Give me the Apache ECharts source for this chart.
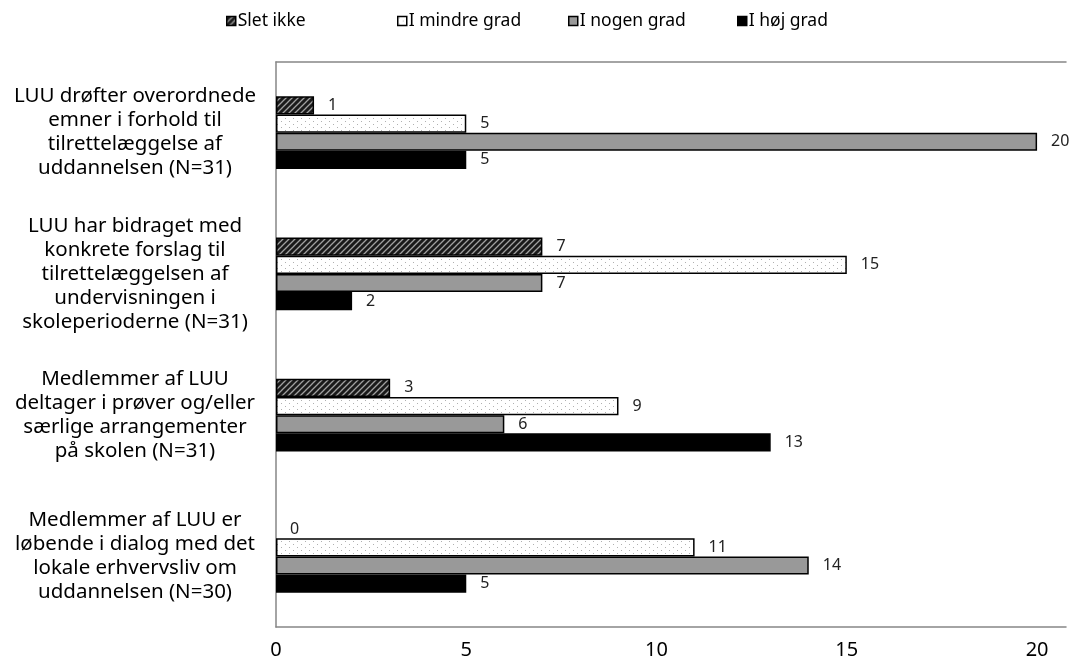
<!DOCTYPE html>
<html>
<head>
<meta charset="utf-8">
<script src="https://cdn.jsdelivr.net/npm/echarts@6/dist/echarts.min.js"></script>
<style>html,body{margin:0;padding:0;background:#fff}#c{width:1069px;height:666px}</style>
</head>
<body>
<div id="c"></div>
<script>
const categories = [
  "LUU drøfter overordnede\nemner i forhold til\ntilrettelæggelse af\nuddannelsen (N=31)",
  "LUU har bidraget med\nkonkrete forslag til\ntilrettelæggelsen af\nundervisningen i\nskoleperioderne (N=31)",
  "Medlemmer af LUU\ndeltager i prøver og/eller\nsærlige arrangementer\npå skolen (N=31)",
  "Medlemmer af LUU er\nløbende i dialog med det\nlokale erhvervsliv om\nuddannelsen (N=30)"
];
const seriesNames = ["Slet ikke", "I mindre grad", "I nogen grad", "I høj grad"];
const sletIkke = [1, 7, 3, 0];
const iMindreGrad = [5, 15, 9, 11];
const iNogenGrad = [20, 7, 6, 14];
const iHoejGrad = [5, 2, 13, 5];
const xTicks = [0, 5, 10, 15, 20];

function hatch() {
  const c = document.createElement('canvas');
  c.width = 6; c.height = 6;
  const g = c.getContext('2d');
  g.fillStyle = '#1a1a1a'; g.fillRect(0, 0, 6, 6);
  g.strokeStyle = '#a0a0a0'; g.lineWidth = 1.3;
  g.beginPath();
  g.moveTo(-1, 7); g.lineTo(7, -1);
  g.moveTo(-4, 4); g.lineTo(4, -4);
  g.moveTo(2, 10); g.lineTo(10, 2);
  g.stroke();
  return c;
}
function dots() {
  const c = document.createElement('canvas');
  c.width = 8; c.height = 6;
  const g = c.getContext('2d');
  g.fillStyle = '#ffffff'; g.fillRect(0, 0, 8, 6);
  g.fillStyle = '#b0b0b0';
  g.fillRect(1, 1, 1, 1);
  g.fillRect(5, 4, 1, 1);
  return c;
}

const fills = [
  { image: hatch(), repeat: 'repeat' },
  { image: dots(), repeat: 'repeat' },
  '#999999',
  '#000000'
];
const values = [sletIkke, iMindreGrad, iNogenGrad, iHoejGrad];

const chart = echarts.init(document.getElementById('c'));
const legendLeft = [226, 397, 568, 737];
const frameLine = { show: true, lineStyle: { color: '#868686', width: 1.5 } };
const axisMax = 20.76;
chart.setOption({
  animation: false,
  textStyle: { fontFamily: 'Noto Sans' },
  legend: seriesNames.map((n, i) => ({
    data: [n], left: legendLeft[i], top: 12, padding: 0,
    itemWidth: 9, itemHeight: 9, icon: 'rect',
    itemStyle: { borderColor: '#000', borderWidth: 1.5 },
    textStyle: { fontSize: 17.5, color: '#000', fontFamily: 'Noto Sans', padding: [0, 0, 0, -3] },
    selectedMode: false
  })),
  grid: { left: 276, top: 62, bottom: 39, right: 0, show: false, containLabel: false },
  xAxis: [{
    type: 'value', min: 0, max: axisMax, interval: 5,
    axisLine: frameLine, axisTick: { show: false }, splitLine: { show: false },
    axisLabel: { fontSize: 20, color: '#000', margin: 13, fontFamily: 'Noto Sans',
      formatter: v => xTicks.indexOf(v) >= 0 ? String(v) : '' }
  }, {
    type: 'value', position: 'top', min: 0, max: axisMax,
    axisLine: frameLine, axisTick: { show: false }, splitLine: { show: false }, axisLabel: { show: false }
  }],
  yAxis: {
    type: 'category', data: categories, inverse: true,
    axisLine: frameLine, axisTick: { show: false },
    axisLabel: { fontSize: 20.5, color: '#000', align: 'center', margin: 141, lineHeight: 24, fontFamily: 'Noto Sans' }
  },
  series: seriesNames.map((n, i) => ({
    name: n, type: 'bar', barWidth: 18.2, barGap: '0%', xAxisIndex: 0,
    data: values[i].map(v => v === 0 ? { value: v, itemStyle: { borderWidth: 0 } } : v),
    itemStyle: { color: fills[i], borderColor: '#000', borderWidth: 1.5 },
    label: { show: true, position: 'right', distance: 14, fontSize: 16, color: '#222', fontFamily: 'Noto Sans' }
  }))
});
</script>
</body>
</html>
